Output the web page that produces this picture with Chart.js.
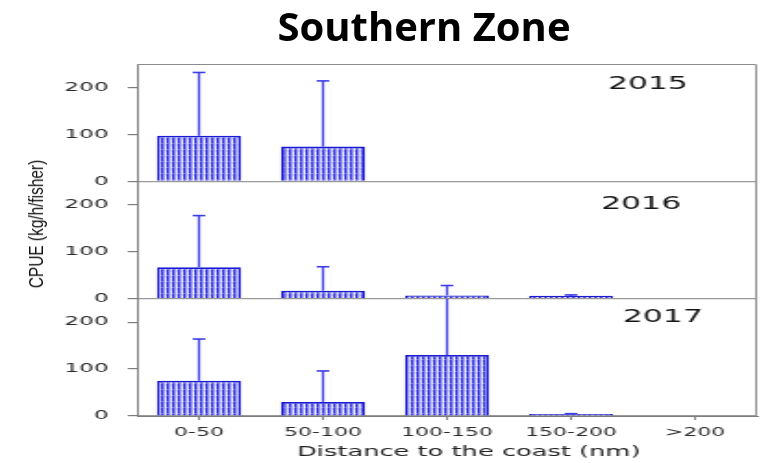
<!DOCTYPE html>
<html>
<head>
<meta charset="utf-8">
<title>Southern Zone</title>
<script src="https://cdn.jsdelivr.net/npm/chart.js@4/dist/chart.umd.min.js"></script>
<style>
  html, body { margin: 0; padding: 0; background: #fff; }
  #wrap { position: relative; width: 770px; height: 463px; overflow: hidden; }
  #plot { position: absolute; left: 0; top: 0; width: 770px; height: 463px; }
  #title {
    position: absolute; left: 424px; top: 6px; transform: translateX(-50%);
    font: bold 40px/1 "Open Sans", sans-serif; color: #000; white-space: nowrap;
  }
  #ytitle {
    position: absolute; left: 35.5px; top: 223.5px;
    transform: translate(-50%, -50%) rotate(-90deg) scaleX(0.77);
    font: 20px/1 "Liberation Sans", sans-serif; color: #111; white-space: nowrap;
  }
</style>
</head>
<body>
<div id="wrap">
  <!-- the plot is drawn on a narrow canvas and widened by CSS, giving the broad lettering of the figure -->
  <canvas id="plot" width="416" height="463" style="width:770px;height:463px"></canvas>
  <div id="title">Southern Zone</div>
  <div id="ytitle">CPUE (kg/h/fisher)</div>
</div>
<script>
// ---- data -------------------------------------------------------------
const categories = ['0-50', '50-100', '100-150', '150-200', '>200'];
const years = ['2015', '2016', '2017'];

// mean CPUE per distance band
const cpue2015 = [97, 74, null, null, null];
const cpue2016 = [67, 17, 7, 6, null];
const cpue2017 = [75, 30, 130, 4, null];

// upper error (standard deviation) per distance band
const sd2015 = [135, 140, null, null, null];
const sd2016 = [110, 51, 21, 2, null];
const sd2017 = [89, 66, 140, 1, null];

const yTicks = [0, 100, 200];
const yMax = 250;
const xTitle = 'Distance to the coast (nm)';

// ---- styling ----------------------------------------------------------
Chart.defaults.font.family = '"DejaVu Sans", sans-serif';

const BAR_BLUE = '#1a1ad2';
const ERR_BLUE = '#3c3ce4';
const AXIS_GREY = '#7d7d7d';

// vertical dashed hatch used inside the bars
function makeHatch() {
  const c = document.createElement('canvas');
  c.width = 3; c.height = 6;
  const g = c.getContext('2d');
  const col = (x, y0, y1, color) => { g.fillStyle = color; g.fillRect(x, y0, 1, y1 - y0); };
  col(0, 0, 5, '#3030dc'); col(0, 5, 6, '#6a6ae8');
  col(1, 0, 6, '#9090f0');
  col(2, 0, 2, '#d4d4fa'); col(2, 2, 6, '#ececff');
  return g.createPattern(c, 'repeat');
}
const hatch = makeHatch();

const panels = [
  { year: years[0], mean: cpue2015, sd: sd2015, axis: 'y2015', weight: 3, labelX: 0.824, labelDy: 21 },
  { year: years[1], mean: cpue2016, sd: sd2016, axis: 'y2016', weight: 2, labelX: 0.813, labelDy: 23 },
  { year: years[2], mean: cpue2017, sd: sd2017, axis: 'y2017', weight: 1, labelX: 0.848, labelDy: 18.5 }
];

// one value axis per year, stacked on top of each other
function panelAxis(weight) {
  return {
    type: 'linear', axis: 'y', position: 'left',
    stack: 'cpue', stackWeight: 1, weight: weight,
    min: 0, max: yMax,
    afterBuildTicks: s => { s.ticks = yTicks.map(v => ({ value: v })); },
    afterFit: s => { s.width = 74; },
    ticks: { font: { size: 12.5 }, color: '#2a2a2a', padding: 10.4 },
    grid: {
      color: c => (c.tick && c.tick.value === 0) ? '#9a9a9a' : 'rgba(0,0,0,0)',
      tickColor: AXIS_GREY, tickLength: 5, lineWidth: 1.2
    },
    border: { color: AXIS_GREY, width: 1 }
  };
}

// upper error whiskers with caps, clipped to their panel
const errorBars = {
  id: 'errorBars',
  afterDatasetsDraw(chart) {
    const ctx = chart.ctx;
    ctx.save();
    ctx.strokeStyle = ERR_BLUE;
    panels.forEach((p, i) => {
      const meta = chart.getDatasetMeta(i);
      const ys = chart.scales[meta.yAxisID];
      meta.data.forEach((bar, j) => {
        const m = p.mean[j], sd = p.sd[j];
        if (m == null || sd == null) return;
        const hi = m + sd;
        const yTop = ys.getPixelForValue(Math.min(hi, ys.max));
        ctx.lineWidth = 1.25;
        ctx.beginPath(); ctx.moveTo(bar.x, bar.y); ctx.lineTo(bar.x, yTop); ctx.stroke();
        if (hi <= ys.max) {
          ctx.lineWidth = 1.6;
          ctx.beginPath(); ctx.moveTo(bar.x - 3.4, yTop); ctx.lineTo(bar.x + 3.4, yTop); ctx.stroke();
        }
      });
    });
    ctx.restore();
  }
};

// outer frame, the year caption of each panel and the distance caption
const panelFrame = {
  id: 'panelFrame',
  afterDraw(chart) {
    const { ctx, chartArea: a } = chart;
    ctx.save();
    ctx.strokeStyle = '#8c8c8c';
    ctx.lineWidth = 1;
    ctx.beginPath();
    ctx.moveTo(a.left, a.top + 0.5); ctx.lineTo(a.right - 0.5, a.top + 0.5); ctx.lineTo(a.right - 0.5, a.bottom);
    ctx.stroke();
    ctx.fillStyle = '#151515';
    ctx.font = '17px "DejaVu Sans", sans-serif';
    ctx.textAlign = 'center';
    ctx.textBaseline = 'middle';
    panels.forEach(p => {
      const s = chart.scales[p.axis];
      ctx.fillText(p.year, a.left + p.labelX * a.width, s.top + p.labelDy);
    });
    ctx.fillStyle = '#222';
    ctx.font = '13.9px "DejaVu Sans", sans-serif';
    ctx.fillText(xTitle, a.left + 0.535 * a.width, 452.5);
    ctx.restore();
  }
};

const scales = {
  x: {
    type: 'category', labels: categories, offset: true,
    grid: { drawOnChartArea: false, drawTicks: true, tickLength: 4, offset: false, tickColor: AXIS_GREY },
    border: { color: AXIS_GREY, width: 1 },
    ticks: { font: { size: 11.8 }, color: '#2a2a2a', padding: 6, maxRotation: 0, autoSkip: false },
    afterFit: s => { s.height = 47; }
  }
};
panels.forEach(p => { scales[p.axis] = panelAxis(p.weight); });

new Chart(document.getElementById('plot'), {
  type: 'bar',
  data: {
    labels: categories,
    datasets: panels.map(p => ({
      label: p.year,
      data: p.mean,
      yAxisID: p.axis,
      grouped: false,
      backgroundColor: hatch,
      borderColor: BAR_BLUE,
      borderWidth: { left: 1.7, right: 1.7, top: 1.8, bottom: 0 },
      borderSkipped: false,
      barPercentage: 0.68,
      categoryPercentage: 1
    }))
  },
  options: {
    responsive: false,
    devicePixelRatio: 1,
    animation: false,
    layout: { padding: { left: 0, right: 7, top: 64, bottom: 0 } },
    plugins: { legend: { display: false }, tooltip: { enabled: false }, title: { display: false } },
    scales: scales
  },
  plugins: [errorBars, panelFrame]
});
</script>
</body>
</html>
